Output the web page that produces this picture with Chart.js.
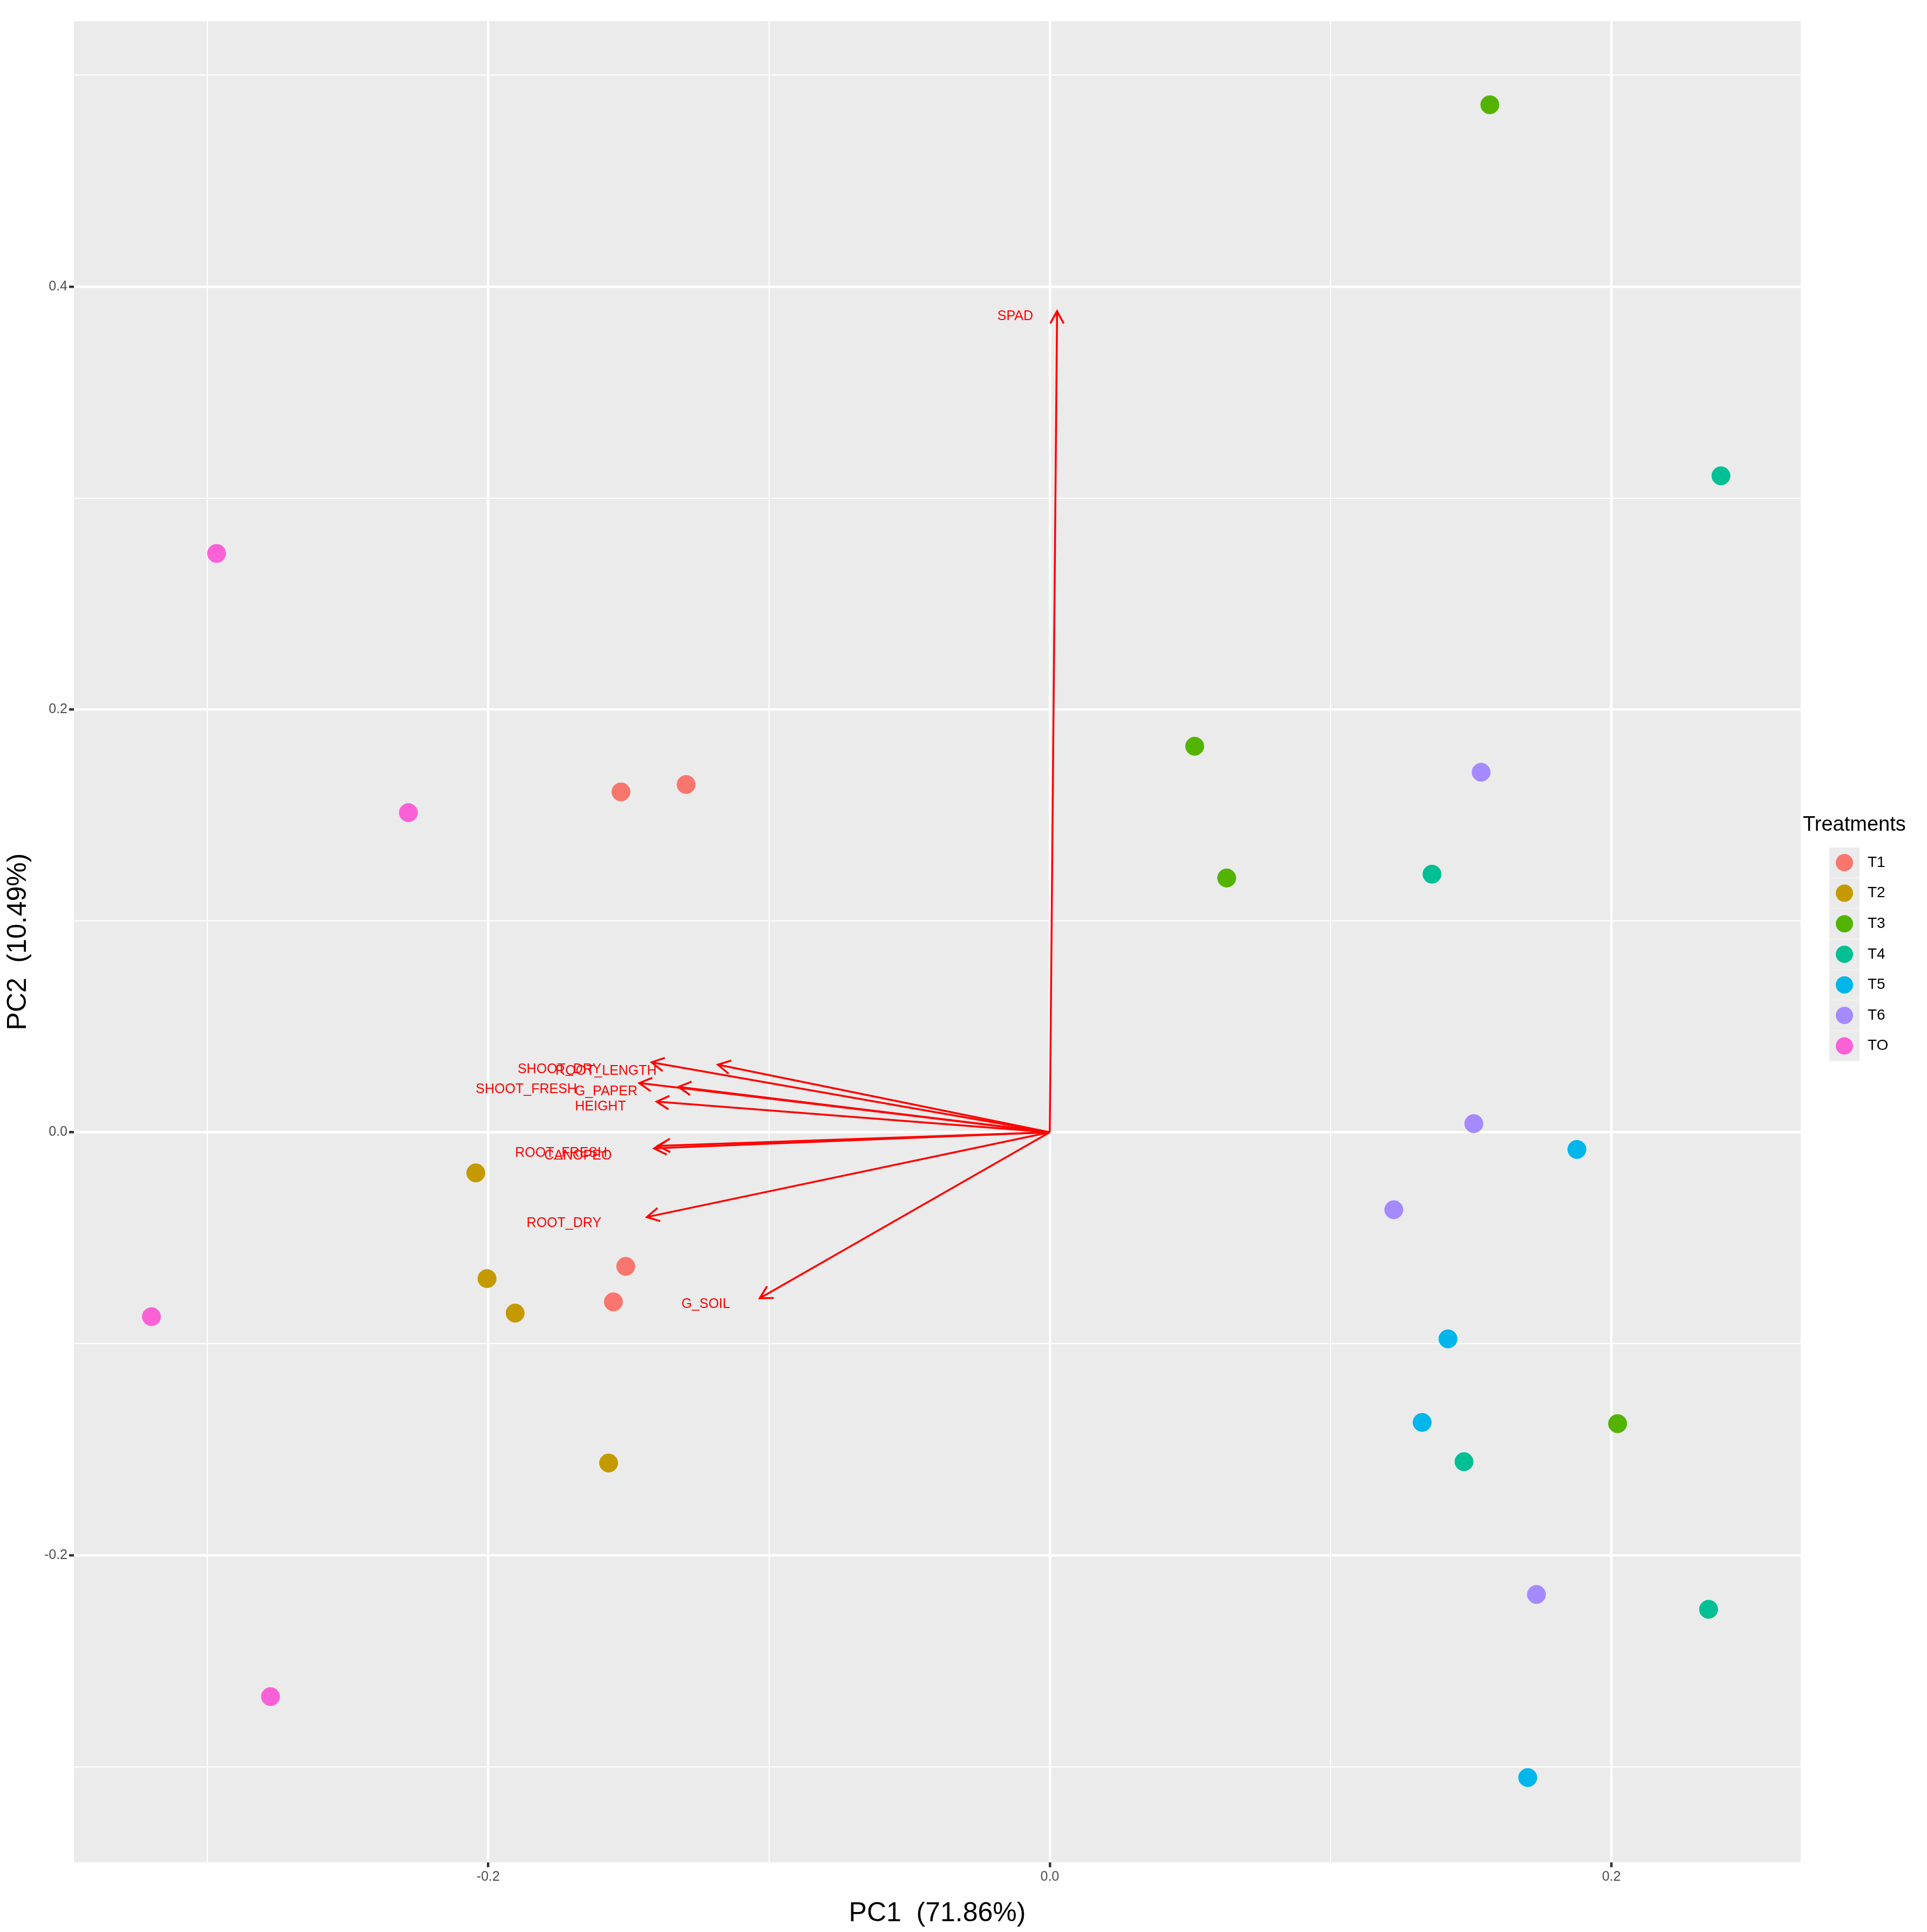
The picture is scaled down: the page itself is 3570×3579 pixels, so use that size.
<!DOCTYPE html>
<html>
<head>
<meta charset="utf-8">
<script src="https://cdn.jsdelivr.net/npm/chart.js@4.4.1/dist/chart.umd.min.js"></script>
<style>
  html, body { margin: 0; padding: 0; background: #fff; }
  #wrap { width: 3570px; height: 3579px; }
</style>
</head>
<body>
<div id="wrap"><canvas id="pca"></canvas></div>
<script>
// treatments and their scores (PC1, PC2)
const treatments = ['T1', 'T2', 'T3', 'T4', 'T5', 'T6', 'TO']
const colors = ['#F8766D', '#C49A00', '#53B400', '#00C094', '#00B6EB', '#A58AFF', '#FB61D7']
const pc1 = [
  [-0.1527, -0.1295, -0.151, -0.1554],
  [-0.2044, -0.2004, -0.1904, -0.1571],
  [0.1567, 0.0516, 0.063, 0.2022],
  [0.239, 0.1361, 0.1475, 0.2346],
  [0.1877, 0.1418, 0.1326, 0.1702],
  [0.1536, 0.151, 0.1225, 0.1733],
  [-0.2967, -0.2284, -0.3199, -0.2775]
]
const pc2 = [
  [0.161, 0.1645, -0.0634, -0.0802],
  [-0.0192, -0.0692, -0.0855, -0.1564],
  [0.486, 0.1826, 0.1203, -0.1378],
  [0.3105, 0.1221, -0.1558, -0.2256],
  [-0.0081, -0.0977, -0.1372, -0.3052],
  [0.1703, 0.0041, -0.0366, -0.2186],
  [0.2738, 0.1512, -0.0872, -0.2669]
]

// loadings (arrow ends) and label anchors
const variables = ['SPAD', 'ROOT_LENGTH', 'SHOOT_DRY', 'G_PAPER', 'SHOOT_FRESH', 'HEIGHT', 'ROOT_FRESH', 'CANOPEO', 'ROOT_DRY', 'G_SOIL']
const loadX = [0.0026, -0.1182, -0.1418, -0.1322, -0.1462, -0.14, -0.1409, -0.1396, -0.1435, -0.1033]
const loadY = [0.3884, 0.032, 0.0331, 0.0215, 0.0233, 0.0145, -0.0076, -0.0064, -0.0401, -0.0785]
const labelX = [-0.0123, -0.158, -0.1746, -0.158, -0.1864, -0.160, -0.174, -0.168, -0.173, -0.1225]
const labelY = [0.386, 0.029, 0.0297, 0.0192, 0.0203, 0.0122, -0.0099, -0.011, -0.043, -0.0814]

const isMajor = v => Math.abs(Math.round(v * 10)) % 2 === 0

const datasets = treatments.map((t, i) => ({
  label: t,
  data: pc1[i].map((x, j) => ({ x: x, y: pc2[i][j] })),
  backgroundColor: colors[i],
  borderColor: colors[i],
  pointRadius: 17,
  pointHoverRadius: 17
}))

const panel = {
  id: 'panel',
  beforeDraw(chart) {
    const { ctx, chartArea: a } = chart
    ctx.save()
    ctx.fillStyle = '#EBEBEB'
    ctx.fillRect(a.left, a.top, a.right - a.left, a.bottom - a.top)
    ctx.restore()
  }
}

const arrows = {
  id: 'arrows',
  afterDatasetsDraw(chart) {
    const { ctx, scales: { x, y } } = chart
    const x0 = x.getPixelForValue(0), y0 = y.getPixelForValue(0)
    ctx.save()
    ctx.strokeStyle = '#FF0000'
    ctx.fillStyle = '#FF0000'
    ctx.lineWidth = 3.5
    variables.forEach((v, i) => {
      const x1 = x.getPixelForValue(loadX[i]), y1 = y.getPixelForValue(loadY[i])
      const ang = Math.atan2(y1 - y0, x1 - x0)
      const h = 26
      ctx.beginPath()
      ctx.moveTo(x0, y0)
      ctx.lineTo(x1, y1)
      ctx.moveTo(x1 - h * Math.cos(ang - 0.5), y1 - h * Math.sin(ang - 0.5))
      ctx.lineTo(x1, y1)
      ctx.lineTo(x1 - h * Math.cos(ang + 0.5), y1 - h * Math.sin(ang + 0.5))
      ctx.stroke()
    })
    ctx.font = '25px "Liberation Sans", Arial, sans-serif'
    ctx.textAlign = 'center'
    ctx.textBaseline = 'middle'
    variables.forEach((v, i) => {
      ctx.fillText(v, x.getPixelForValue(labelX[i]), y.getPixelForValue(labelY[i]))
    })
    ctx.restore()
  }
}

const legendBox = {
  id: 'legendBox',
  afterDraw(chart) {
    const { ctx } = chart
    ctx.save()
    ctx.font = '38px "Liberation Sans", Arial, sans-serif'
    ctx.fillStyle = '#000'
    ctx.textBaseline = 'middle'
    ctx.fillText('Treatments', 3340, 1529)
    treatments.forEach((t, i) => {
      const cy = 1598 + i * 56.6
      ctx.fillStyle = '#EBEBEB'
      ctx.fillRect(3389, cy - 28, 56, 56)
      ctx.fillStyle = colors[i]
      ctx.beginPath()
      ctx.arc(3417, cy, 16, 0, Math.PI * 2)
      ctx.fill()
      ctx.fillStyle = '#000'
      ctx.font = '28px "Liberation Sans", Arial, sans-serif'
      ctx.fillText(t, 3460, cy)
    })
    ctx.restore()
  }
}

const gridOpts = {
  color: c => '#FFFFFF',
  lineWidth: c => isMajor(c.tick.value) ? 4.5 : 2,
  tickColor: c => isMajor(c.tick.value) ? '#333333' : 'rgba(0,0,0,0)',
  tickLength: 9,
  drawTicks: true
}

new Chart(document.getElementById('pca'), {
  type: 'scatter',
  data: { datasets: datasets },
  plugins: [panel, arrows, legendBox],
  options: {
    responsive: true,
    maintainAspectRatio: false,
    animation: false,
    layout: { padding: { top: 39, right: 234 } },
    plugins: { legend: { display: false }, tooltip: { enabled: false } },
    scales: {
      x: {
        min: -0.3475, max: 0.2674,
        afterBuildTicks: s => { s.ticks = [-0.3, -0.2, -0.1, 0, 0.1, 0.2].map(v => ({ value: v })) },
        afterFit: s => { s.height = 129 },
        grid: gridOpts,
        border: { display: false },
        ticks: {
          color: '#4D4D4D', font: { size: 25, family: 'Liberation Sans' },
          callback: v => isMajor(v) ? (Math.abs(v) < 1e-9 ? '0.0' : v.toFixed(1)) : ''
        },
        title: { display: true, text: 'PC1  (71.86%)', color: '#000', font: { size: 50, family: 'Liberation Sans' }, padding: { top: 4 } }
      },
      y: {
        min: -0.3453, max: 0.5256,
        afterBuildTicks: s => { s.ticks = [-0.3, -0.2, -0.1, 0, 0.1, 0.2, 0.3, 0.4, 0.5].map(v => ({ value: v })) },
        afterFit: s => { s.width = 137 },
        grid: gridOpts,
        border: { display: false },
        ticks: {
          color: '#4D4D4D', font: { size: 25, family: 'Liberation Sans' },
          callback: v => isMajor(v) ? (Math.abs(v) < 1e-9 ? '0.0' : v.toFixed(1)) : ''
        },
        title: { display: true, text: 'PC2  (10.49%)', color: '#000', font: { size: 50, family: 'Liberation Sans' }, padding: { bottom: 4 } }
      }
    }
  }
})
</script>
</body>
</html>
